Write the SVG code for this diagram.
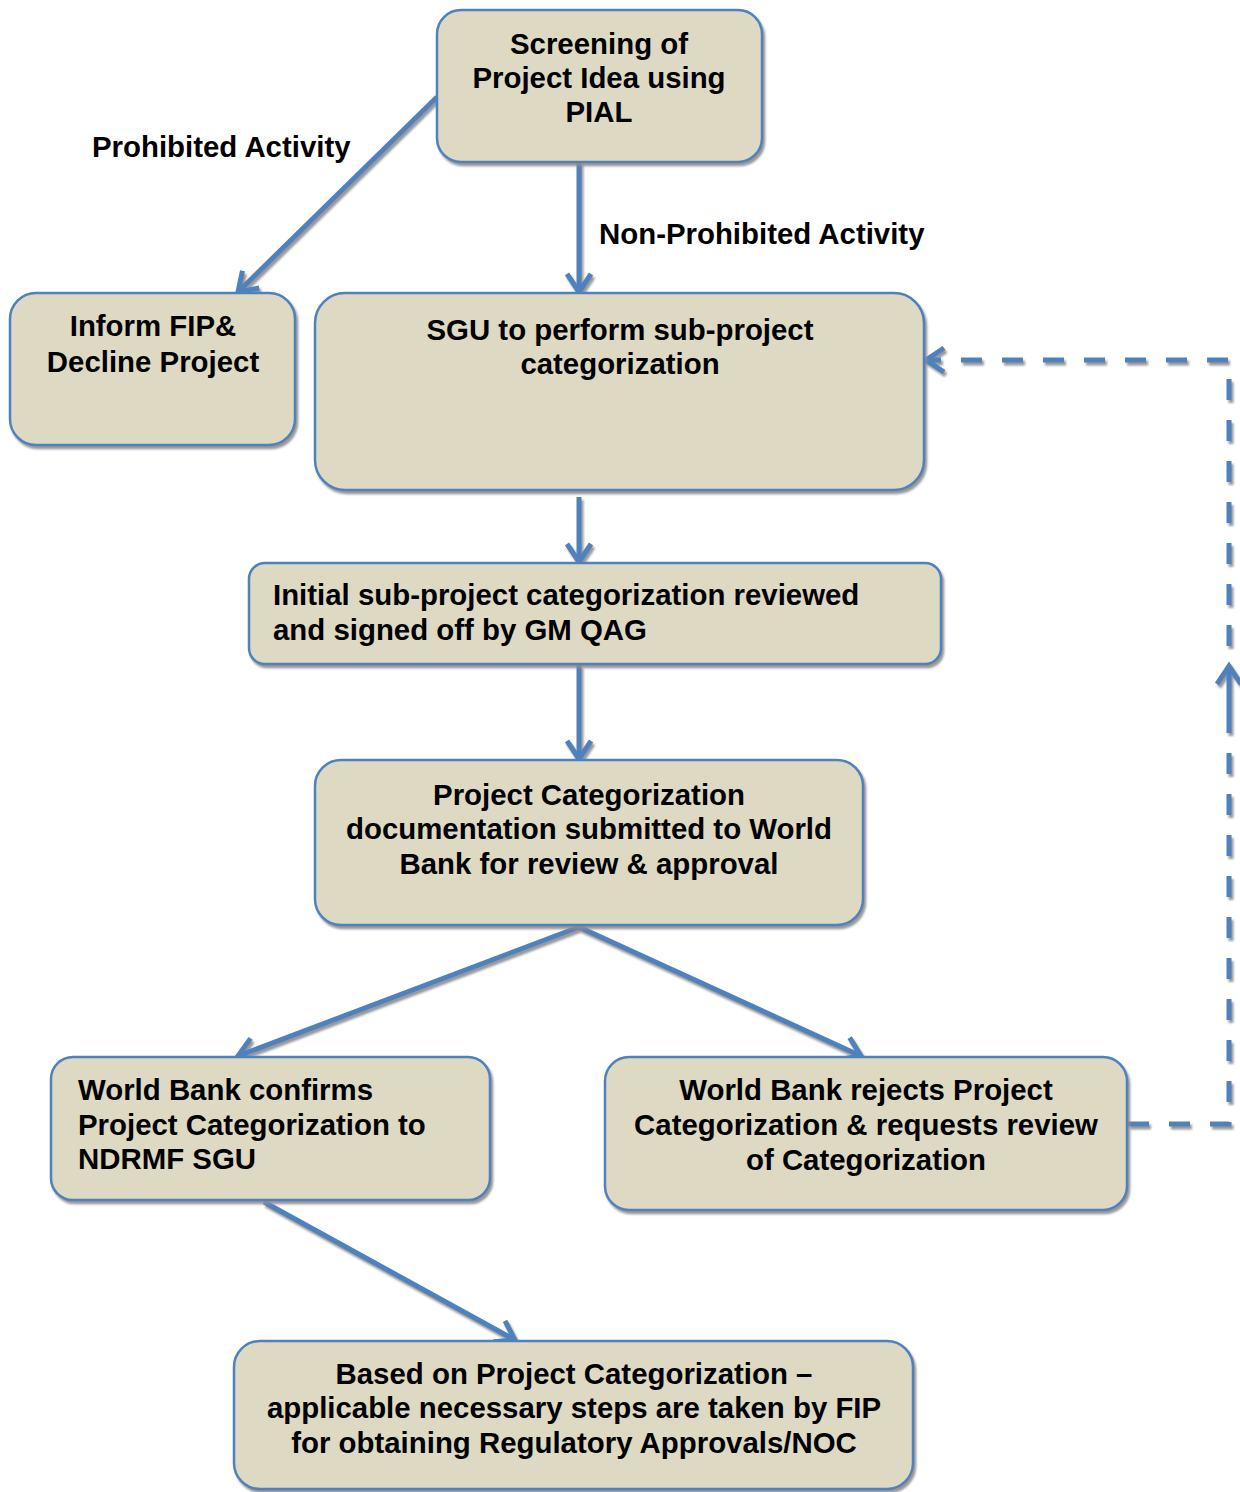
<svg xmlns="http://www.w3.org/2000/svg" width="1240" height="1492" viewBox="0 0 1240 1492">
<style>
.box{fill:#DDD9C3;stroke:#4F81BD;stroke-width:2.5}
.t{font-family:"Liberation Sans",Arial,sans-serif;font-weight:bold;font-size:29.4px;fill:#000}
.c{text-anchor:middle}
.ln{fill:none;stroke:#4F81BD;stroke-width:5}
.dash{stroke-dasharray:21 20}
.sh{filter:url(#shadow)}
</style>
<defs>
<filter id="shadow" x="-10%" y="-10%" width="130%" height="130%">
<feDropShadow dx="2" dy="3" stdDeviation="0.8" flood-color="#8C8C8C" flood-opacity="0.9"/>
</filter>
<marker id="arr" viewBox="0 0 28 28" refX="23" refY="14" markerWidth="28" markerHeight="28" markerUnits="userSpaceOnUse" orient="auto">
<path d="M5,2 L23,14 L5,26" fill="none" stroke="#4F81BD" stroke-width="5"/>
</marker>
</defs>
<rect width="1240" height="1492" fill="#FFFFFF"/>

<g id="connectors" class="sh">
<line class="ln" x1="437" y1="97" x2="238" y2="292" marker-end="url(#arr)"/>
<line class="ln" x1="579" y1="162" x2="579" y2="292" marker-end="url(#arr)"/>
<line class="ln" x1="579" y1="497" x2="579" y2="562" marker-end="url(#arr)"/>
<line class="ln" x1="579" y1="665" x2="579" y2="759" marker-end="url(#arr)"/>
<line class="ln" x1="579" y1="927" x2="238" y2="1056" marker-end="url(#arr)"/>
<line class="ln" x1="579" y1="927" x2="861" y2="1056" marker-end="url(#arr)"/>
<line class="ln" x1="264" y1="1202" x2="515" y2="1340" marker-end="url(#arr)"/>
<path class="ln dash" d="M1128,1124 L1229,1124 L1229,732"/>
<line class="ln" x1="1229" y1="732" x2="1229" y2="666" marker-end="url(#arr)"/>
<path class="ln dash" d="M1229,646 L1229,360 L926,360" marker-end="url(#arr)"/>
</g>

<g id="n-screening">
<rect class="box sh" x="437" y="10" width="325" height="152" rx="24"/>
<text class="t c" x="599" y="54">Screening of</text>
<text class="t c" x="599" y="88">Project Idea using</text>
<text class="t c" x="599" y="122">PIAL</text>
</g>

<g id="lbl-prohibited">
<text class="t" x="92" y="157">Prohibited Activity</text>
</g>
<g id="lbl-nonprohibited">
<text class="t" x="599" y="244">Non-Prohibited Activity</text>
</g>

<g id="n-inform">
<rect class="box sh" x="10" y="293" width="285" height="152" rx="26"/>
<text class="t c" x="153" y="336">Inform FIP&amp;</text>
<text class="t c" x="153" y="372">Decline Project</text>
</g>

<g id="n-sgu">
<rect class="box sh" x="315" y="293" width="609" height="197" rx="30"/>
<text class="t c" x="620" y="340">SGU to perform sub-project</text>
<text class="t c" x="620" y="374">categorization</text>
</g>

<g id="n-initial">
<rect class="box sh" x="249" y="563" width="692" height="101" rx="16"/>
<text class="t" x="273" y="605">Initial sub-project categorization reviewed</text>
<text class="t" x="273" y="640">and signed off by GM QAG</text>
</g>

<g id="n-projcat">
<rect class="box sh" x="315" y="760" width="548" height="165" rx="26"/>
<text class="t c" x="589" y="805">Project Categorization</text>
<text class="t c" x="589" y="839">documentation submitted to World</text>
<text class="t c" x="589" y="874">Bank for review &amp; approval</text>
</g>

<g id="n-confirms">
<rect class="box sh" x="51" y="1057" width="439" height="143" rx="22"/>
<text class="t" x="78" y="1100">World Bank confirms</text>
<text class="t" x="78" y="1135">Project Categorization to</text>
<text class="t" x="78" y="1169">NDRMF SGU</text>
</g>

<g id="n-rejects">
<rect class="box sh" x="605" y="1057" width="522" height="153" rx="24"/>
<text class="t c" x="866" y="1100">World Bank rejects Project</text>
<text class="t c" x="866" y="1135">Categorization &amp; requests review</text>
<text class="t c" x="866" y="1170">of Categorization</text>
</g>

<g id="n-based">
<rect class="box sh" x="234" y="1341" width="679" height="148" rx="26"/>
<text class="t c" x="574" y="1384">Based on Project Categorization –</text>
<text class="t c" x="574" y="1418">applicable necessary steps are taken by FIP</text>
<text class="t c" x="574" y="1453">for obtaining Regulatory Approvals/NOC</text>
</g>
</svg>
